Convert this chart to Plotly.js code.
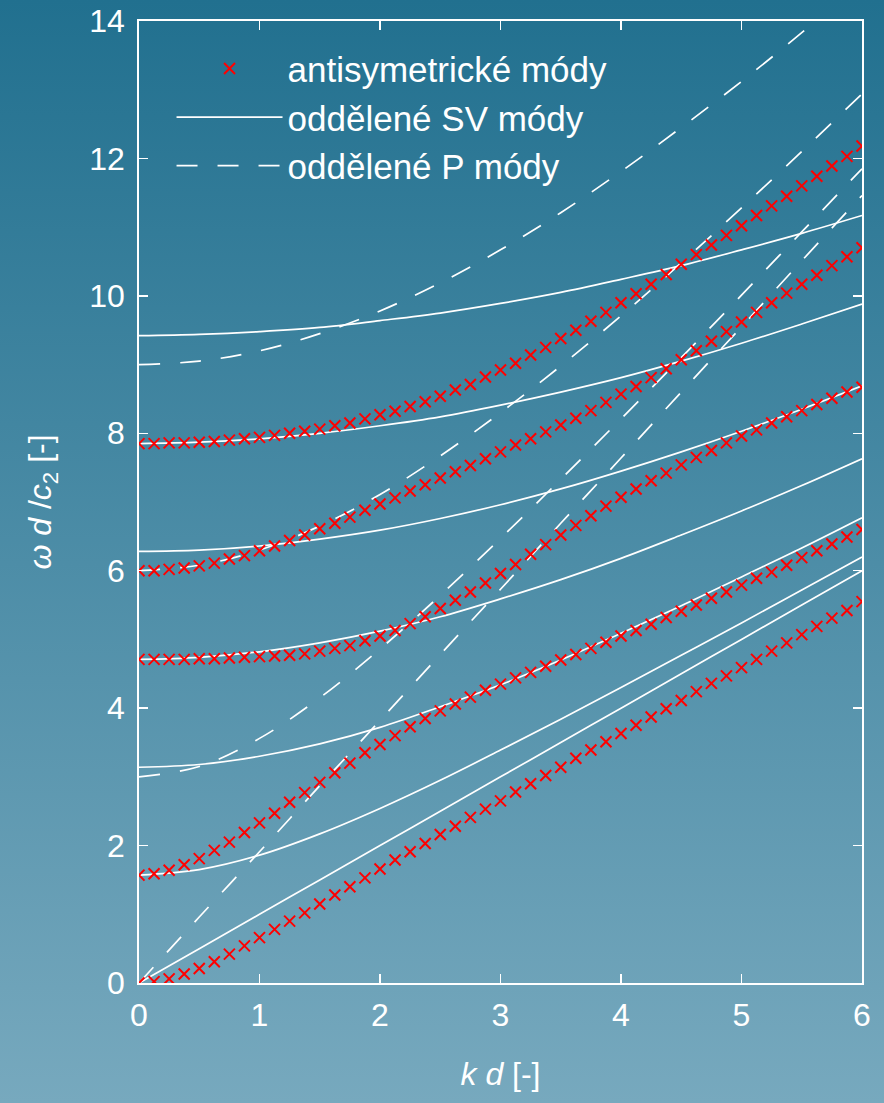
<!DOCTYPE html>
<html><head><meta charset="utf-8">
<script src="https://cdn.plot.ly/plotly-3.0.1.min.js"></script>
<style>
html,body{margin:0;padding:0;width:884px;height:1103px;overflow:hidden;
background:linear-gradient(to bottom,#21708f 0%,#77a9be 100%);}
#chart{width:884px;height:1103px;}
</style></head><body><div id="chart"></div>
<script>
// wavenumber samples of the antisymmetric-mode markers
const kdFine = [0,0.125,0.25,0.375,0.5,0.625,0.75,0.875,1,1.125,1.25,1.375,1.5,1.625,1.75,1.875,2,2.125,2.25,2.375,2.5,2.625,2.75,2.875,3,3.125,3.25,3.375,3.5,3.625,3.75,3.875,4,4.125,4.25,4.375,4.5,4.625,4.75,4.875,5,5.125,5.25,5.375,5.5,5.625,5.75,5.875,6];
// antisymmetric modes (red crosses)
const modeA0 = [0,0.02,0.06,0.13,0.21,0.31,0.42,0.54,0.66,0.78,0.90,1.02,1.15,1.28,1.40,1.53,1.66,1.79,1.91,2.03,2.16,2.28,2.41,2.53,2.65,2.78,2.90,3.02,3.14,3.27,3.39,3.51,3.63,3.75,3.87,3.99,4.11,4.24,4.36,4.47,4.59,4.71,4.83,4.95,5.07,5.19,5.31,5.42,5.55];
const modeA1 = [1.57,1.59,1.64,1.72,1.81,1.93,2.05,2.19,2.33,2.47,2.63,2.77,2.92,3.06,3.20,3.35,3.47,3.60,3.73,3.85,3.96,4.06,4.16,4.26,4.35,4.44,4.52,4.61,4.70,4.78,4.87,4.96,5.05,5.13,5.22,5.32,5.41,5.50,5.60,5.69,5.79,5.89,5.98,6.08,6.19,6.29,6.39,6.49,6.60];
const modeA2 = [4.71,4.71,4.71,4.71,4.72,4.72,4.73,4.74,4.75,4.76,4.77,4.79,4.83,4.87,4.91,4.98,5.05,5.13,5.23,5.33,5.45,5.57,5.69,5.82,5.96,6.09,6.24,6.38,6.52,6.66,6.80,6.94,7.07,7.19,7.31,7.42,7.54,7.65,7.75,7.86,7.96,8.05,8.15,8.24,8.33,8.42,8.51,8.60,8.67];
const modeA3 = [6.00,6.00,6.02,6.04,6.07,6.11,6.17,6.22,6.29,6.36,6.44,6.52,6.61,6.69,6.78,6.88,6.97,7.06,7.16,7.25,7.35,7.44,7.53,7.63,7.73,7.83,7.92,8.02,8.12,8.22,8.33,8.45,8.57,8.68,8.81,8.94,9.07,9.20,9.34,9.48,9.62,9.76,9.90,10.04,10.17,10.30,10.44,10.57,10.70];
const modeA4 = [7.85,7.85,7.86,7.86,7.87,7.88,7.90,7.92,7.94,7.97,8.00,8.03,8.06,8.11,8.15,8.21,8.27,8.32,8.39,8.46,8.54,8.63,8.71,8.82,8.92,9.02,9.14,9.25,9.38,9.50,9.63,9.76,9.90,10.03,10.17,10.31,10.46,10.60,10.74,10.88,11.02,11.17,11.31,11.45,11.60,11.74,11.89,12.03,12.18];

// wavenumber samples of the uncoupled curves
const kdCoarse = [0,0.5,1,1.5,2,2.5,3,3.5,4,4.5,5,5.5,6];
// uncoupled SV modes (solid)
const sv0 = [0,0.5,1,1.5,2,2.5,3,3.5,4,4.5,5,5.5,6];
const sv1 = [1.57,1.65,1.86,2.17,2.54,2.95,3.39,3.84,4.30,4.77,5.24,5.72,6.20];
const sv2 = [3.14,3.18,3.30,3.48,3.72,4.02,4.34,4.70,5.09,5.49,5.91,6.33,6.77];
const sv3 = [4.71,4.74,4.82,4.95,5.12,5.33,5.59,5.87,6.18,6.52,6.87,7.24,7.63];
const sv4 = [6.28,6.30,6.36,6.46,6.59,6.76,6.96,7.19,7.45,7.73,8.03,8.35,8.69];
const sv5 = [7.85,7.87,7.92,8.00,8.11,8.24,8.41,8.60,8.81,9.05,9.31,9.59,9.88];
const sv6 = [9.42,9.44,9.48,9.54,9.64,9.75,9.89,10.05,10.24,10.44,10.67,10.91,11.17];
// uncoupled P modes (dashed)
const p0 = [0,0.96,1.91,2.87,3.82,4.78,5.73,6.69,7.64,8.60,9.55,10.51,11.46];
const p1 = [3.00,3.15,3.56,4.15,4.86,5.64,6.47,7.33,8.21,9.10,10.01,10.93,11.85];
const p2 = [6.00,6.08,6.30,6.65,7.11,7.67,8.30,8.98,9.71,10.48,11.28,12.10,12.94];
const p3 = [9.00,9.05,9.20,9.45,9.78,10.19,10.67,11.21,11.81,12.45,13.12,13.83,14.57];

const xTickVals = [0,1,2,3,4,5,6];
const yTickVals = [0,2,4,6,8,10,12,14];
const legendNames = ['antisymetrické módy','oddělené SV módy','oddělené P módy'];

const svModes = [sv0,sv1,sv2,sv3,sv4,sv5,sv6];
const pModes = [p0,p1,p2,p3];
const aModes = [modeA0,modeA1,modeA2,modeA3,modeA4];

const traces = [];
svModes.forEach((ys,i)=>traces.push({
  x:kdCoarse, y:ys, type:'scatter', mode:'lines',
  line:{color:'#ffffff', width:1.7, shape:'spline'},
  name:legendNames[1], legendgroup:'sv', showlegend:i===0, legendrank:2
}));
pModes.forEach((ys,i)=>traces.push({
  x:kdCoarse, y:ys, type:'scatter', mode:'lines',
  line:{color:'#ffffff', width:1.7, shape:'spline', dash:'21px,20px'},
  name:legendNames[2], legendgroup:'p', showlegend:i===0, legendrank:3
}));
aModes.forEach((ys,i)=>traces.push({
  x:kdFine, y:ys, type:'scatter', mode:'markers',
  marker:{symbol:'x-thin', size:11, color:'#ff0000', line:{color:'#ff0000', width:2}},
  name:legendNames[0], legendgroup:'a', showlegend:i===0, legendrank:1
}));

const axisCommon = {
  ticks:'inside', ticklen:9, tickwidth:1.5, tickcolor:'#ffffff',
  showline:true, linecolor:'#ffffff', linewidth:1.7, mirror:'ticks',
  showgrid:false, zeroline:false,
  tickfont:{size:32, color:'#ffffff'}
};

const layout = {
  width:884, height:1103,
  margin:{l:139, r:22, t:21, b:120, pad:0},
  paper_bgcolor:'rgba(0,0,0,0)', plot_bgcolor:'rgba(0,0,0,0)',
  font:{family:'Liberation Sans, Arial, sans-serif', color:'#ffffff', size:32},
  xaxis:Object.assign({}, axisCommon, {
    range:[0,6], tickmode:'array', tickvals:xTickVals, ticklabelstandoff:3,
    title:{text:'<i>k d</i> [-]', font:{size:32, color:'#ffffff'}, standoff:30}
  }),
  yaxis:Object.assign({}, axisCommon, {
    range:[0,14], tickmode:'array', tickvals:yTickVals, ticklabelstandoff:6,
    title:{text:'<i>ω d</i> /<i>c</i><sub>2</sub> [-]', font:{size:32, color:'#ffffff'}, standoff:28}
  }),
  showlegend:true,
  legend:{x:0.045, y:0.981, xanchor:'left', yanchor:'top', bgcolor:'rgba(0,0,0,0)',
    borderwidth:0, itemwidth:106, font:{size:35, color:'#ffffff'}, traceorder:'normal'}
};

Plotly.newPlot('chart', traces, layout, {displayModeBar:false, staticPlot:true});
</script></body></html>
